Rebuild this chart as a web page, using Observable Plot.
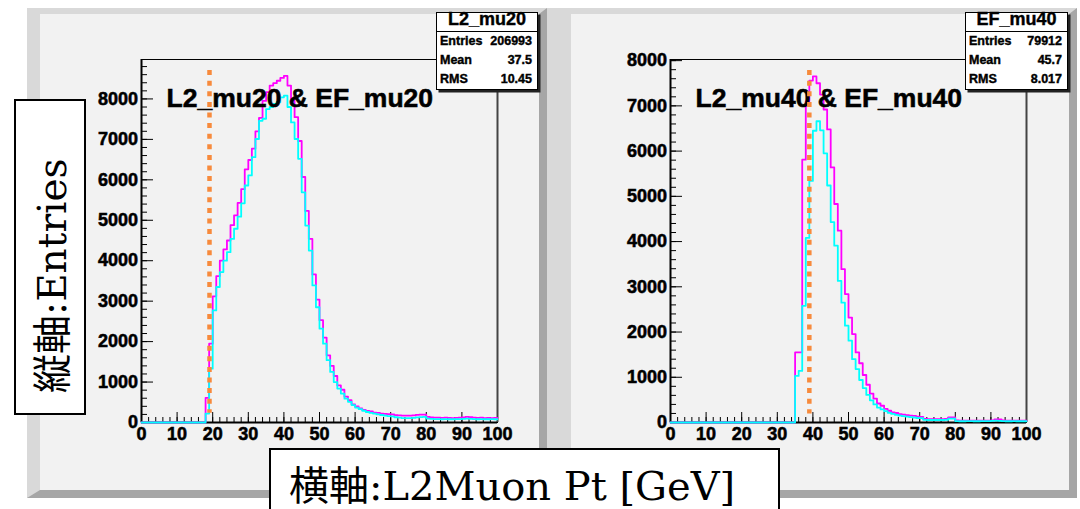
<!DOCTYPE html>
<html>
<head>
<meta charset="utf-8">
<script src="https://cdn.jsdelivr.net/npm/d3@7"></script>
<script src="https://cdn.jsdelivr.net/npm/@observablehq/plot@0.6"></script>
<style>
  html, body { margin: 0; padding: 0; background: #fff; width: 1080px; height: 509px; overflow: hidden; }
  #root { position: relative; width: 1080px; height: 509px; overflow: hidden; }
  .pad { position: absolute; box-sizing: border-box; background: #f2f2f2; border-style: solid;
         border-color: #d9d9d9 #a6a6a6 #a6a6a6 #d9d9d9; }
  .plot { position: absolute; top: 0; }
  .plot text { stroke: #000; stroke-width: 0.55px; }
  .stats { position: absolute; top: 12px; height: 78px; box-sizing: border-box; background: #fff;
           border: 1.5px solid #000; box-shadow: 2.5px 2.5px 0 #222;
           font-family: "Liberation Sans", Arial, Helvetica, sans-serif; font-weight: bold; color: #000;
           -webkit-text-stroke: 0.4px #000; }
  .st-title { position: absolute; left: 0; right: 0; top: -3px; text-align: center; font-size: 18px; line-height: 18px; }
  .st-sep { position: absolute; left: 0; right: 0; top: 18px; border-top: 1px solid #000; }
  .st-row { position: absolute; left: 3px; right: 5px; font-size: 12.5px; line-height: 12px; display: flex; justify-content: space-between; }
  .lab { position: absolute; box-sizing: border-box; background: #fff; border: 2px solid #000; }
  .labtext { position: absolute; white-space: nowrap; font-family: "DejaVu Serif", "Noto Sans CJK JP", serif; color: #000; }
</style>
</head>
<body>
<div id="root"></div>
<script>
// ---------------- data ----------------
const xTicks = [0, 10, 20, 30, 40, 50, 60, 70, 80, 90, 100];
const yTicks = [0, 1000, 2000, 3000, 4000, 5000, 6000, 7000, 8000];

const titleLeft = "L2_mu20 & EF_mu20";
const titleRight = "L2_mu40 & EF_mu40";

const statsNameLeft = "L2_mu20";
const statsLeft = [["Entries", "206993"], ["Mean", "37.5"], ["RMS", "10.45"]];
const statsNameRight = "EF_mu40";
const statsRight = [["Entries", "79912"], ["Mean", "45.7"], ["RMS", "8.017"]];

const yAxisTitle = "縦軸:Entries";
const xAxisTitle = "横軸:L2Muon Pt [GeV]";

// 1 GeV bins, 0..100
const l2mu20 = [
  0,0,0,0,0,0,0,0,0,0,0,0,0,0,0,0,0,0,
  610,1950,3120,3620,4000,4280,4500,4880,5120,5430,5770,6260,6490,6770,7200,7530,7950,8170,8330,8390,8450,8520,8570,
  8330,7950,7550,6960,6070,5230,4540,3660,3040,2530,2100,1660,1400,1150,920,810,640,550,450,395,
  350,310,285,275,245,240,220,215,205,200,180,175,170,170,170,175,190,195,195,
  140,125,120,120,115,120,115,110,115,120,125,140,130,120,115,120,110,115,110,115
];
const efmu20 = [
  0,0,0,0,0,0,0,0,0,0,0,0,0,0,0,0,0,0,
  220,1330,2770,3350,3720,4000,4210,4540,4790,5090,5420,5860,6110,6560,7010,7460,7510,7750,7800,7880,7920,8040,8080,
  7800,7420,7010,6520,5690,4870,4250,3390,2850,2320,1950,1540,1250,1000,840,715,590,510,430,370,
  330,290,260,240,220,200,185,170,160,150,130,120,110,110,110,115,125,135,140,
  95,90,85,85,80,85,80,80,85,85,90,95,90,85,80,85,80,80,85,80
];
const l2mu40 = [
  0,0,0,0,0,0,0,0,0,0,0,0,0,0,0,0,0,0,0,0,0,0,0,0,0,0,0,0,0,0,0,0,0,0,0,
  1550,1550,5810,7100,7560,7650,7500,7250,6920,6480,5640,4830,4240,3390,2840,2320,1955,1550,1310,1050,835,640,530,420,370,300,
  260,225,210,185,175,165,150,145,130,125,80,75,75,75,75,75,80,110,110,
  45,40,40,40,40,40,40,40,40,40,45,70,70,45,40,40,40,40,40,40
];
const efmu40 = [
  0,0,0,0,0,0,0,0,0,0,0,0,0,0,0,0,0,0,0,0,0,0,0,0,0,0,0,0,0,0,0,0,0,0,0,
  1030,1140,2580,4080,5340,6450,6660,6460,5950,5240,4430,3910,3130,2650,2140,1810,1400,1180,940,760,610,490,400,330,290,250,
  215,190,170,150,140,130,120,110,100,95,60,55,55,55,55,55,60,85,85,
  30,28,28,30,30,28,28,30,30,30,35,40,35,30,28,28,30,28,28,28
];

// threshold lines (GeV position, extent in entries)
const cutLeft = [{x: 19.1, top: 8700, bottom: 230}];
const cutRight = [{x: 39, top: 7780, bottom: 190}];

const yMaxLeft = 8975;
const yMaxRight = 8025;

// ---------------- drawing ----------------
const root = document.getElementById("root");

function addDiv(cls, style, html) {
  const d = document.createElement("div");
  d.className = cls;
  Object.assign(d.style, style);
  if (html != null) d.innerHTML = html;
  root.appendChild(d);
  return d;
}

// pads
addDiv("pad", {left: "27px", top: "8px", width: "520px", height: "490px", borderWidth: "6px 8px 8px 13px"});
addDiv("pad", {left: "547px", top: "8px", width: "530px", height: "490px", borderWidth: "6px 8px 8px 24px"});

function toSteps(vals) {
  const pts = vals.map((v, i) => ({x: i, y: v}));
  pts.push({x: vals.length, y: vals[vals.length - 1]});
  return pts;
}

function panel({left, marginLeft, marginRight, yMax, h1, h2, title, cut}) {
  const frameW = 540 - marginLeft - marginRight;
  const frameH = 509 - 59 - 87;
  const xMinor = d3.range(0, 101, 2);
  const yMinor = d3.range(0, yMax, 200);
  const chart = Plot.plot({
    width: 540,
    height: 509,
    marginLeft, marginRight, marginTop: 59, marginBottom: 87,
    x: {domain: [0, 100]},
    y: {domain: [0, yMax]},
    style: {background: "transparent", fontFamily: "'Liberation Sans', Arial, Helvetica, sans-serif",
            fontWeight: "bold", fontSize: "18px", color: "#000", overflow: "visible"},
    marks: [
      Plot.frame({stroke: "#000", strokeWidth: 1}),
      Plot.tickY(yMinor, {y: d => d, insetRight: frameW - 6, stroke: "#000", strokeWidth: 1}),
      Plot.tickY(yTicks, {y: d => d, insetRight: frameW - 12, stroke: "#000", strokeWidth: 1}),
      Plot.tickX(xMinor, {x: d => d, insetTop: frameH - 5, stroke: "#000", strokeWidth: 1}),
      Plot.tickX(xTicks, {x: d => d, insetTop: frameH - 10, stroke: "#000", strokeWidth: 1}),
      Plot.ruleX([100], {stroke: "#444", strokeWidth: 2}),
      Plot.ruleX([0], {stroke: "#000", strokeWidth: 2}),
      Plot.ruleY([0], {stroke: "#000", strokeWidth: 2}),
      Plot.axisX({ticks: xTicks, tickSize: 0, tickPadding: 5, tickFormat: d => String(d), label: null}),
      Plot.axisY({ticks: yTicks, tickSize: 0, tickPadding: 3.5, tickFormat: d => String(d), label: null}),
      Plot.line(toSteps(h1), {x: "x", y: "y", curve: "step-after", stroke: "#ff00ff", strokeWidth: 1.8}),
      Plot.line(toSteps(h2), {x: "x", y: "y", curve: "step-after", stroke: "#00ffff", strokeWidth: 1.8}),
      Plot.text([title], {text: d => d, frameAnchor: "top-left", textAnchor: "start", lineAnchor: "bottom",
                          dx: 25, dy: 47, fontSize: 26.5, fontWeight: "bold", fill: "#000"}),
      Plot.ruleX(cut, {x: "x", y1: "top", y2: "bottom", stroke: "#f78a3c", strokeWidth: 4.5, strokeDasharray: "5,5.6"})
    ]
  });
  chart.classList.add("plot");
  chart.style.left = left + "px";
  root.appendChild(chart);
}

panel({left: 0, marginLeft: 141, marginRight: 43, yMax: yMaxLeft, h1: l2mu20, h2: efmu20, title: titleLeft, cut: cutLeft});
panel({left: 540, marginLeft: 130, marginRight: 54, yMax: yMaxRight, h1: l2mu40, h2: efmu40, title: titleRight, cut: cutRight});

// stats boxes
function stats(left, width, name, rows) {
  const tops = [22, 40.6, 59.6];
  let html = `<div class="st-title">${name}</div><div class="st-sep"></div>`;
  rows.forEach((r, i) => {
    html += `<div class="st-row" style="top:${tops[i]}px"><span>${r[0]}</span><span>${r[1]}</span></div>`;
  });
  addDiv("stats", {left: left + "px", width: width + "px"}, html);
}
stats(436, 102, statsNameLeft, statsLeft);
stats(965, 103, statsNameRight, statsRight);

// axis title boxes
addDiv("lab", {left: "13.5px", top: "99px", width: "72px", height: "316px"});
const yt = addDiv("labtext", {left: "33px", top: "393px", fontSize: "39px", lineHeight: "39px",
                              transformOrigin: "0 0", transform: "rotate(-90deg)"});
yt.textContent = yAxisTitle;

addDiv("lab", {left: "268.5px", top: "447.5px", width: "511px", height: "80px"});
const xt = addDiv("labtext", {left: "289px", top: "466px", fontSize: "40px", lineHeight: "40px"});
xt.textContent = xAxisTitle;
</script>
</body>
</html>
